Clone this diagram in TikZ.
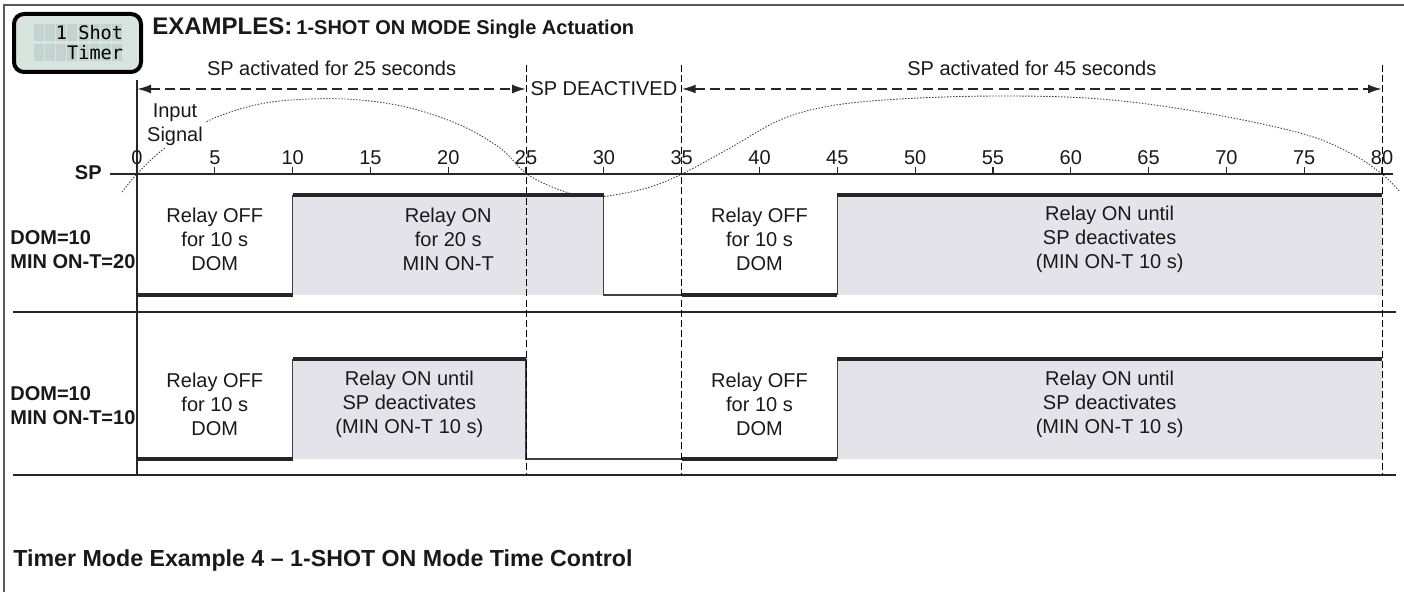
\documentclass[tikz,border=0pt]{standalone}
\usepackage{fontspec}
\setmainfont{Liberation Sans}
\setmonofont{DejaVu Sans Mono}
\usetikzlibrary{arrows.meta, calc}

\definecolor{relayfill}{RGB}{228,227,233}
\definecolor{lcdfill}{RGB}{216,228,222}
\definecolor{lcdcell}{RGB}{196,210,210}

\begin{document}
\begin{tikzpicture}[x=0.5pt, y=-0.5pt,
    every node/.style={inner sep=0pt, text=black!90, font=\fontsize{10}{12}\selectfont},
    framerule/.style={line width=1pt, black!65},
    gridrule/.style={line width=0.6pt, black!85},
    markline/.style={line width=0.5pt, black, dash pattern=on 3.5pt off 1.6pt},
    spanarrow/.style={line width=1pt, black!85, dash pattern=on 5pt off 2.6pt,
        {Latex[length=7pt,width=4.5pt]}-{Latex[length=7pt,width=4.5pt]}},
    inputline/.style={line width=0.45pt, black!75, dash pattern=on 0.7pt off 0.8pt},
    relaylevel/.style={line width=1.7pt, black!85},
    relayedge/.style={line width=0.6pt, black!75},
    relaytext/.style={align=center},
    rowlabel/.style={align=left, font=\fontsize{10}{12}\selectfont\bfseries},
    lcdtext/.style={font=\fontsize{9.3}{10}\ttfamily, text=black},
  ]
  \useasboundingbox (0,0) rectangle (1404,592);

  % Rahmen
  \draw[framerule] (4,592) -- (4,5) -- (1404,5);

  % LCD-Anzeige
  \draw[line width=2pt, rounded corners=5pt, fill=lcdfill] (14,14) rectangle (141,72);
  \foreach \c in {0,...,7}
    \foreach \r/\ry in {0/24, 1/44}
      \fill[lcdcell] ({33.5+\c*11.25},\ry) rectangle ({33.5+\c*11.25+10.2},{\ry+17});
  \node[lcdtext, anchor=east] (lcdtop) at (123.5,32.5) {1 Shot};
  \node[lcdtext, anchor=east] (lcdbot) at (123.5,52.5) {Timer};

  % Titel
  \node[anchor=base west, font=\fontsize{12}{14}\selectfont\bfseries] (examples) at (152,35) {EXAMPLES:};
  \node[anchor=base west, font=\fontsize{10}{12}\selectfont\bfseries] (subtitle) at (296,35) {1-SHOT ON MODE Single Actuation};

  % Eingangssignal (gepunktet)
  \draw[inputline] plot[smooth, tension=0.6] coordinates {
      (122,192) (137,174) (165,148) (210,120) (260,104) (310,99) (360,100)
      (410,108) (460,125) (500,148) (527,174) (560,190) (590,197) (620,194)
      (650,187) (682,174) (730,148) (780,120) (830,106) (900,99) (1000,96)
      (1100,99) (1200,112) (1300,133) (1350,153) (1382,174) (1400,192)};
  \node[relaytext, fill=white, inner sep=1pt] (input) at (175,125) {Input\\Signal};

  % Achse SP
  \draw[gridrule] (110,174) -- (1393,174);
  \node[anchor=east, font=\fontsize{10}{12}\selectfont\bfseries] (splabel) at (102,173) {SP};

  % Trennlinien der Zeilen
  \draw[gridrule] (13,312) -- (1396,312);
  \draw[gridrule] (13,475) -- (1396,475);
  \draw[gridrule] (137,80) -- (137,475);

  % Zeilenbeschriftung
  \node[rowlabel, anchor=west] (row1) at (10,250) {DOM=10\\MIN ON-T=20};
  \node[rowlabel, anchor=west] (row2) at (10,406) {DOM=10\\MIN ON-T=10};

  % --- Zeitachse: 1 Einheit = 1 s ---
  \begin{scope}[xshift=68.5pt, x=7.78125pt]
    % Skala
    \foreach \t in {0,5,...,80} {
      \draw[gridrule] (\t,167) -- (\t,174);
      \node[anchor=base] (tick\t) at (\t,165) {\t};
    }

    % Zeile 1: DOM=10, MIN ON-T=20
    \fill[relayfill] (10,195) rectangle (30,295);
    \fill[relayfill] (45,195) rectangle (80,295);
    \draw[relayedge] (10,295) -- (10,195);
    \draw[relayedge] (30,195) -- (30,295) -- (35,295);
    \draw[relayedge] (45,295) -- (45,195);
    \draw[relaylevel] (0,295) -- (10,295);
    \draw[relaylevel] (10,195) -- (30,195);
    \draw[relaylevel] (35,295) -- (45,295);
    \draw[relaylevel] (45,195) -- (80,195);

    \node[relaytext] (off1a) at (5,239) {Relay OFF\\for 10 s\\DOM};
    \node[relaytext] (on1a) at (20,239) {Relay ON\\for 20 s\\MIN ON-T};
    \node[relaytext] (off1b) at (40,239) {Relay OFF\\for 10 s\\DOM};
    \node[relaytext] (on1b) at (62.5,239) {Relay ON until\\SP deactivates\\(MIN ON-T 10 s)};

    % Zeile 2: DOM=10, MIN ON-T=10
    \fill[relayfill] (10,359) rectangle (25,459);
    \fill[relayfill] (45,359) rectangle (80,459);
    \draw[relayedge] (10,459) -- (10,359);
    \draw[relayedge] (25,359) -- (25,459) -- (35,459);
    \draw[relayedge] (45,459) -- (45,359);
    \draw[relaylevel] (0,459) -- (10,459);
    \draw[relaylevel] (10,359) -- (25,359);
    \draw[relaylevel] (35,459) -- (45,459);
    \draw[relaylevel] (45,359) -- (80,359);

    \node[relaytext] (off2a) at (5,404) {Relay OFF\\for 10 s\\DOM};
    \node[relaytext] (on2a) at (17.5,404) {Relay ON until\\SP deactivates\\(MIN ON-T 10 s)};
    \node[relaytext] (off2b) at (40,404) {Relay OFF\\for 10 s\\DOM};
    \node[relaytext] (on2b) at (62.5,404) {Relay ON until\\SP deactivates\\(MIN ON-T 10 s)};

    % Markierungen SP ein/aus
    \foreach \t in {25,35,80}
      \draw[markline] (\t,65) -- (\t,475);

    \coordinate (m0) at (0,89);
    \coordinate (m25) at (25,89);
    \coordinate (m35) at (35,89);
    \coordinate (m80) at (80,89);
    \draw[spanarrow] (m0) -- (m25) node[midway, above=6pt] (span1) {SP activated for 25 seconds};
    \draw[spanarrow] (m35) -- (m80) node[midway, above=6pt] (span2) {SP activated for 45 seconds};
    \node (deact) at ($(m25)!0.5!(m35)$) {SP DEACTIVED};
  \end{scope}

  \node[anchor=base west, font=\fontsize{11.6}{14}\selectfont\bfseries] (caption) at (13,567)
    {Timer Mode Example 4 -- 1-SHOT ON Mode Time Control};
\end{tikzpicture}
\end{document}
